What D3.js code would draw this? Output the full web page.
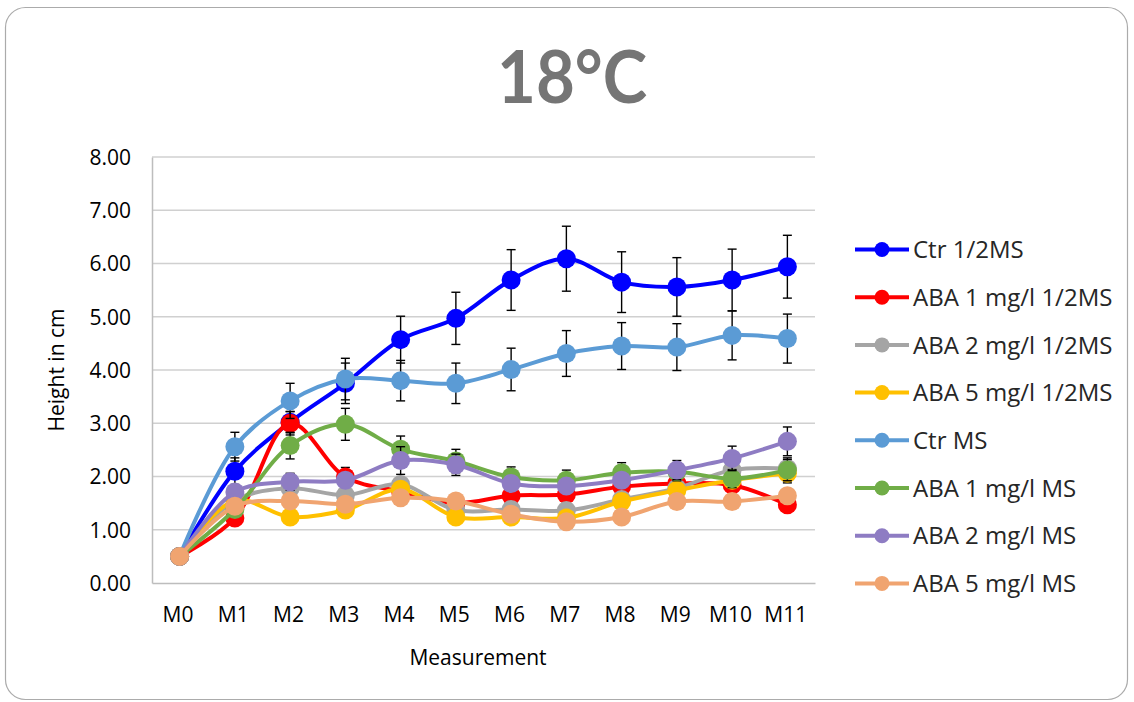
<!DOCTYPE html>
<html>
<head>
<meta charset="utf-8">
<script src="https://cdn.jsdelivr.net/npm/d3@7"></script>
<style>
  html, body { margin: 0; padding: 0; background: #fff; }
  svg { display: block; }
  text { font-family: "Open Sans", "Noto Sans", sans-serif; fill: #000; }
</style>
</head>
<body>
<svg id="chart" width="1134" height="702"></svg>
<script>
// Measurement points
const categories = ["M0", "M1", "M2", "M3", "M4", "M5", "M6", "M7", "M8", "M9", "M10", "M11"];
const yTicks = [0, 1, 2, 3, 4, 5, 6, 7, 8];

// Mean plant height (cm) per treatment, with standard error
const ctrHalfMS     = [0.50, 2.10, 3.02, 3.75, 4.57, 4.97, 5.69, 6.09, 5.65, 5.56, 5.69, 5.94];
const ctrHalfMSErr  = [0.02, 0.25, 0.20, 0.38, 0.44, 0.49, 0.57, 0.61, 0.57, 0.55, 0.58, 0.59];

const aba1HalfMS    = [0.50, 1.22, 3.00, 1.99, 1.72, 1.50, 1.64, 1.66, 1.81, 1.87, 1.84, 1.47];
const aba1HalfMSErr = [0.02, 0.12, 0.22, 0.18, 0.14, 0.14, 0.14, 0.14, 0.14, 0.14, 0.14, 0.14];

const aba2HalfMS    = [0.50, 1.55, 1.78, 1.65, 1.85, 1.37, 1.38, 1.36, 1.57, 1.78, 2.12, 2.15];
const aba2HalfMSErr = [0.02, 0.12, 0.12, 0.12, 0.12, 0.12, 0.12, 0.12, 0.12, 0.12, 0.14, 0.20];

const aba5HalfMS    = [0.50, 1.55, 1.24, 1.37, 1.76, 1.24, 1.24, 1.22, 1.53, 1.74, 1.93, 2.06];
const aba5HalfMSErr = [0.02, 0.12, 0.12, 0.12, 0.12, 0.12, 0.12, 0.12, 0.12, 0.12, 0.14, 0.18];

const ctrMS         = [0.50, 2.56, 3.42, 3.83, 3.80, 3.75, 4.01, 4.31, 4.45, 4.43, 4.65, 4.59];
const ctrMSErr      = [0.02, 0.27, 0.33, 0.39, 0.38, 0.38, 0.40, 0.43, 0.44, 0.44, 0.46, 0.46];

const aba1MS        = [0.50, 1.38, 2.58, 2.98, 2.51, 2.29, 1.99, 1.93, 2.07, 2.09, 1.96, 2.12];
const aba1MSErr     = [0.02, 0.14, 0.25, 0.30, 0.25, 0.22, 0.19, 0.19, 0.19, 0.17, 0.17, 0.20];

const aba2MS        = [0.50, 1.71, 1.90, 1.93, 2.30, 2.22, 1.87, 1.82, 1.93, 2.12, 2.34, 2.66];
const aba2MSErr     = [0.02, 0.12, 0.16, 0.12, 0.26, 0.20, 0.12, 0.12, 0.12, 0.18, 0.23, 0.27];

const aba5MS        = [0.50, 1.44, 1.54, 1.48, 1.60, 1.54, 1.29, 1.15, 1.24, 1.53, 1.53, 1.64];
const aba5MSErr     = [0.02, 0.10, 0.10, 0.10, 0.10, 0.10, 0.10, 0.10, 0.10, 0.10, 0.10, 0.10];

const seriesNames  = ["Ctr 1/2MS", "ABA 1 mg/l 1/2MS", "ABA 2 mg/l 1/2MS", "ABA 5 mg/l 1/2MS",
                      "Ctr MS", "ABA 1 mg/l MS", "ABA 2 mg/l MS", "ABA 5 mg/l MS"];
const seriesValues = [ctrHalfMS, aba1HalfMS, aba2HalfMS, aba5HalfMS, ctrMS, aba1MS, aba2MS, aba5MS];
const seriesErrors = [ctrHalfMSErr, aba1HalfMSErr, aba2HalfMSErr, aba5HalfMSErr, ctrMSErr, aba1MSErr, aba2MSErr, aba5MSErr];
const seriesColors = ["#0000FF", "#FF0000", "#A5A5A5", "#FFC000", "#5B9BD5", "#70AD47", "#8E7CC3", "#F0A470"];

const series = seriesNames.map((name, i) => ({
  name, color: seriesColors[i],
  points: categories.map((c, j) => ({ cat: c, v: seriesValues[i][j], e: seriesErrors[i][j] }))
}));

const svg = d3.select("#chart");

// Chart frame
svg.append("rect")
  .attr("x", 5.5).attr("y", 7.5).attr("width", 1122).attr("height", 692)
  .attr("rx", 20).attr("ry", 20)
  .attr("fill", "#fff").attr("stroke", "#ABABAB").attr("stroke-width", 1.2);

// Title
svg.append("text")
  .attr("x", 572).attr("y", 103)
  .attr("text-anchor", "middle")
  .attr("font-size", 72).attr("font-weight", 700)
  .attr("textLength", 150).attr("lengthAdjust", "spacingAndGlyphs")
  .style("fill", "#757575")
  .style("font-family", "Lato, 'Open Sans', sans-serif")
  .text("18°C");

const plot = { left: 152, right: 815, top: 157, bottom: 583 };

const x = d3.scalePoint().domain(categories).range([plot.left, plot.right]).padding(0.5);
const y = d3.scaleLinear().domain([0, 8]).range([plot.bottom, plot.top]);

// Horizontal gridlines
svg.append("g")
  .selectAll("line")
  .data(yTicks.filter(t => t > 0))
  .join("line")
  .attr("x1", plot.left).attr("x2", plot.right)
  .attr("y1", d => y(d)).attr("y2", d => y(d))
  .attr("stroke", "#D0D0D0").attr("stroke-width", 1.3);

// Y axis
const yAxis = svg.append("g")
  .attr("transform", `translate(${plot.left},0)`)
  .call(d3.axisLeft(y).tickValues(yTicks).tickFormat(d3.format(".2f")).tickSize(0).tickPadding(21));
yAxis.select(".domain").attr("stroke", "#BDBDBD").attr("stroke-width", 1.5);
yAxis.selectAll("text").attr("font-size", 21).style("font-family", "'Open Sans', sans-serif").attr("dy", "0.35em");

// X axis
const xAxis = svg.append("g")
  .attr("transform", `translate(0,${plot.bottom})`)
  .call(d3.axisBottom(x).tickSize(0).tickPadding(24));
xAxis.select(".domain").attr("stroke", "#BDBDBD").attr("stroke-width", 1.5);
xAxis.selectAll("text").attr("font-size", 21).style("font-family", "'Open Sans', sans-serif").attr("dx", "-0.1em");

// Axis titles
svg.append("text")
  .attr("x", 478).attr("y", 665)
  .attr("text-anchor", "middle")
  .attr("font-size", 21)
  .text("Measurement");

svg.append("text")
  .attr("transform", "translate(64,370) rotate(-90)")
  .attr("text-anchor", "middle")
  .attr("font-size", 21)
  .text("Height in cm");

// Series: smoothed line, error bars, markers
const line = d3.line()
  .x(d => x(d.cat))
  .y(d => y(d.v))
  .curve(d3.curveCatmullRom.alpha(0.5));

const capHalf = 4.5;

series.forEach(s => {
  const g = svg.append("g");
  g.append("path")
    .attr("d", line(s.points))
    .attr("fill", "none")
    .attr("stroke", s.color)
    .attr("stroke-width", 4)
    .attr("stroke-linejoin", "round")
    .attr("stroke-linecap", "round");

  const eb = g.append("g").attr("stroke", "#000").attr("stroke-width", 1.4);
  s.points.forEach(p => {
    const cx = x(p.cat), top = y(p.v + p.e), bot = y(p.v - p.e);
    eb.append("line").attr("x1", cx).attr("x2", cx).attr("y1", top).attr("y2", bot);
    eb.append("line").attr("x1", cx - capHalf).attr("x2", cx + capHalf).attr("y1", top).attr("y2", top);
    eb.append("line").attr("x1", cx - capHalf).attr("x2", cx + capHalf).attr("y1", bot).attr("y2", bot);
  });

  g.selectAll("circle")
    .data(s.points)
    .join("circle")
    .attr("cx", d => x(d.cat))
    .attr("cy", d => y(d.v))
    .attr("r", 9.5)
    .attr("fill", s.color);
});

// Legend
const legend = svg.append("g");
const legendTop = 249.5, legendStep = 47.7;
series.forEach((s, i) => {
  const ly = legendTop + i * legendStep;
  legend.append("line")
    .attr("x1", 855).attr("x2", 909)
    .attr("y1", ly).attr("y2", ly)
    .attr("stroke", s.color).attr("stroke-width", 4);
  legend.append("circle")
    .attr("cx", 882).attr("cy", ly).attr("r", 7.5)
    .attr("fill", s.color);
  legend.append("text")
    .attr("x", 913).attr("y", ly)
    .attr("dy", "0.36em")
    .attr("font-size", 24)
    .style("font-family", "'Open Sans', sans-serif")
    .style("fill", "#262626")
    .text(s.name);
});
</script>
</body>
</html>
